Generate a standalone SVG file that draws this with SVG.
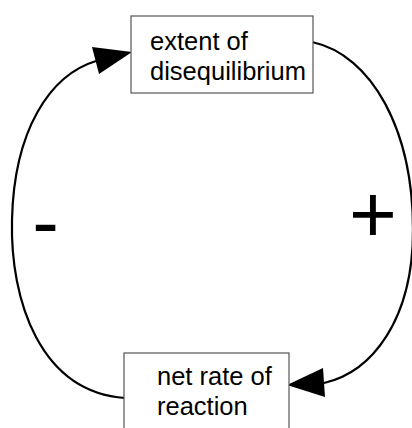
<svg xmlns="http://www.w3.org/2000/svg" width="412" height="428" viewBox="0 0 412 428">
<style>
.box{fill:#fff;stroke:#555;stroke-width:1.2}
.lbl{font-family:"Liberation Sans",Arial,sans-serif;font-size:25.5px;fill:#000}
.sign{font-family:"Liberation Sans",Arial,sans-serif;fill:#000;text-anchor:middle}
.edge{fill:none;stroke:#000;stroke-width:2.2}
.head{fill:#000;stroke:none}
</style>
<rect width="412" height="428" fill="#fff"/>
<g id="connectors">
<path class="edge" d="M312,42 C372,55 413,130 413,230 C413,320 372,372 324,383"/>
<polygon class="head" points="287,385 323,368 325,397"/>
<path class="edge" d="M125,398 C40,392 10,300 12,220 C14,130 50,75 96,61"/>
<polygon class="head" points="132,52 92,47 99,74"/>
</g>
<g id="node-extent">
<rect class="box" x="131" y="16" width="182" height="77"/>
<text class="lbl" x="150" y="50">extent of</text>
<text class="lbl" x="150" y="80">disequilibrium</text>
</g>
<g id="node-rate">
<rect class="box" x="124" y="353" width="165" height="80"/>
<text class="lbl" x="157" y="385">net rate of</text>
<text class="lbl" x="157" y="415">reaction</text>
</g>
<g id="signs">
<text class="sign" x="45.5" y="249" font-size="80">-</text>
<text class="sign" x="373" y="242" font-size="82">+</text>
</g>
</svg>
